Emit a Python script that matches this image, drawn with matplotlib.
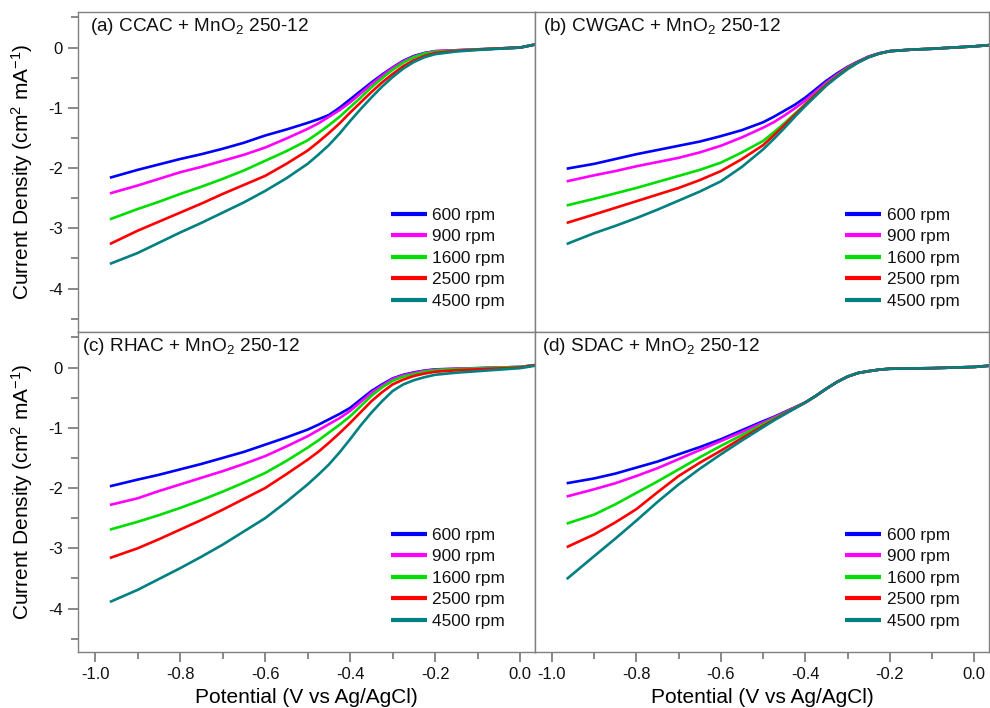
import matplotlib
matplotlib.use("Agg")
import matplotlib.pyplot as plt
from matplotlib.ticker import FixedLocator

plt.rcParams['font.family'] = ['Liberation Sans', 'DejaVu Sans']
plt.rcParams['mathtext.fontset'] = 'custom'
plt.rcParams['mathtext.rm'] = 'Liberation Sans'
plt.rcParams['mathtext.it'] = 'Liberation Sans:italic'
plt.rcParams['mathtext.bf'] = 'Liberation Sans:bold'
plt.rcParams['axes.unicode_minus'] = False

# ---------------- data ----------------
potential = [-0.965, -0.9, -0.85, -0.8, -0.75, -0.7, -0.65, -0.6, -0.55, -0.5,
             -0.475, -0.45, -0.425, -0.4, -0.375, -0.35, -0.325, -0.3, -0.275,
             -0.25, -0.225, -0.2, -0.15, -0.1, -0.05, 0.0, 0.035]

rpm_labels = ["600 rpm", "900 rpm", "1600 rpm", "2500 rpm", "4500 rpm"]

panel_titles = ["(a) CCAC + MnO$_2$ 250-12", "(b) CWGAC + MnO$_2$ 250-12",
                "(c) RHAC + MnO$_2$ 250-12", "(d) SDAC + MnO$_2$ 250-12"]

ccac_600 = [-2.16, -2.03, -1.94, -1.85, -1.77, -1.68, -1.58, -1.46, -1.36, -1.25, -1.19, -1.12, -1.00, -0.86, -0.72, -0.58, -0.45, -0.33, -0.22, -0.14, -0.09, -0.06, -0.045, -0.03, -0.015, 0.00, 0.05]
ccac_900 = [-2.42, -2.29, -2.18, -2.07, -1.98, -1.88, -1.78, -1.66, -1.51, -1.35, -1.26, -1.15, -1.04, -0.91, -0.76, -0.61, -0.47, -0.34, -0.23, -0.15, -0.095, -0.06, -0.045, -0.03, -0.015, 0.00, 0.05]
ccac_1600 = [-2.85, -2.68, -2.56, -2.43, -2.31, -2.18, -2.04, -1.88, -1.72, -1.54, -1.42, -1.29, -1.15, -0.99, -0.83, -0.66, -0.51, -0.37, -0.25, -0.16, -0.10, -0.07, -0.05, -0.03, -0.015, 0.00, 0.05]
ccac_2500 = [-3.26, -3.04, -2.89, -2.74, -2.59, -2.43, -2.28, -2.13, -1.93, -1.71, -1.57, -1.42, -1.26, -1.08, -0.91, -0.74, -0.58, -0.44, -0.31, -0.21, -0.14, -0.09, -0.055, -0.035, -0.015, 0.00, 0.05]
ccac_4500 = [-3.59, -3.41, -3.24, -3.07, -2.91, -2.74, -2.57, -2.38, -2.17, -1.93, -1.78, -1.62, -1.43, -1.22, -1.02, -0.83, -0.65, -0.49, -0.35, -0.24, -0.16, -0.11, -0.065, -0.04, -0.02, 0.00, 0.05]

cwgac_600 = [-2.01, -1.93, -1.85, -1.77, -1.70, -1.63, -1.56, -1.47, -1.37, -1.24, -1.15, -1.05, -0.95, -0.83, -0.69, -0.55, -0.43, -0.32, -0.23, -0.15, -0.095, -0.06, -0.035, -0.02, 0.00, 0.02, 0.04]
cwgac_900 = [-2.22, -2.12, -2.05, -1.97, -1.90, -1.83, -1.74, -1.63, -1.49, -1.33, -1.24, -1.13, -1.01, -0.88, -0.73, -0.58, -0.45, -0.33, -0.235, -0.15, -0.095, -0.06, -0.035, -0.02, 0.00, 0.02, 0.04]
cwgac_1600 = [-2.62, -2.51, -2.42, -2.33, -2.23, -2.13, -2.03, -1.91, -1.74, -1.55, -1.41, -1.26, -1.10, -0.94, -0.77, -0.61, -0.47, -0.34, -0.24, -0.16, -0.10, -0.06, -0.035, -0.02, 0.00, 0.02, 0.04]
cwgac_2500 = [-2.91, -2.77, -2.66, -2.55, -2.44, -2.33, -2.20, -2.05, -1.85, -1.62, -1.46, -1.29, -1.12, -0.95, -0.78, -0.62, -0.48, -0.35, -0.245, -0.16, -0.10, -0.06, -0.035, -0.02, 0.00, 0.02, 0.04]
cwgac_4500 = [-3.26, -3.08, -2.96, -2.83, -2.69, -2.54, -2.39, -2.22, -1.98, -1.69, -1.52, -1.34, -1.15, -0.97, -0.80, -0.63, -0.49, -0.36, -0.25, -0.16, -0.10, -0.06, -0.035, -0.02, 0.00, 0.02, 0.04]

rhac_600 = [-1.97, -1.86, -1.78, -1.69, -1.60, -1.50, -1.40, -1.28, -1.16, -1.03, -0.95, -0.86, -0.77, -0.67, -0.53, -0.39, -0.28, -0.18, -0.12, -0.08, -0.05, -0.03, -0.02, -0.01, 0.00, 0.01, 0.04]
rhac_900 = [-2.28, -2.17, -2.05, -1.94, -1.83, -1.72, -1.60, -1.47, -1.31, -1.14, -1.04, -0.94, -0.84, -0.72, -0.57, -0.42, -0.30, -0.19, -0.13, -0.09, -0.055, -0.035, -0.02, -0.01, 0.00, 0.01, 0.04]
rhac_1600 = [-2.69, -2.56, -2.45, -2.33, -2.20, -2.06, -1.91, -1.75, -1.55, -1.33, -1.21, -1.08, -0.95, -0.81, -0.64, -0.47, -0.33, -0.22, -0.15, -0.11, -0.07, -0.045, -0.025, -0.015, 0.00, 0.01, 0.04]
rhac_2500 = [-3.16, -3.00, -2.85, -2.69, -2.53, -2.36, -2.18, -2.00, -1.77, -1.53, -1.40, -1.25, -1.09, -0.92, -0.74, -0.56, -0.41, -0.28, -0.20, -0.14, -0.10, -0.07, -0.045, -0.03, -0.015, 0.00, 0.04]
rhac_4500 = [-3.89, -3.69, -3.51, -3.33, -3.14, -2.94, -2.72, -2.50, -2.23, -1.94, -1.78, -1.61, -1.41, -1.19, -0.96, -0.75, -0.56, -0.39, -0.28, -0.21, -0.16, -0.12, -0.085, -0.06, -0.035, -0.01, 0.03]

sdac_600 = [-1.92, -1.84, -1.76, -1.66, -1.56, -1.44, -1.32, -1.19, -1.04, -0.89, -0.82, -0.74, -0.66, -0.58, -0.47, -0.35, -0.24, -0.15, -0.09, -0.06, -0.035, -0.02, -0.015, -0.01, 0.00, 0.01, 0.03]
sdac_900 = [-2.14, -2.02, -1.92, -1.80, -1.67, -1.52, -1.37, -1.22, -1.07, -0.91, -0.83, -0.75, -0.665, -0.58, -0.47, -0.35, -0.24, -0.15, -0.09, -0.06, -0.035, -0.02, -0.015, -0.01, 0.00, 0.01, 0.03]
sdac_1600 = [-2.59, -2.44, -2.27, -2.08, -1.89, -1.69, -1.49, -1.30, -1.12, -0.94, -0.85, -0.76, -0.67, -0.58, -0.47, -0.35, -0.24, -0.15, -0.09, -0.06, -0.035, -0.02, -0.015, -0.01, 0.00, 0.01, 0.03]
sdac_2500 = [-2.98, -2.77, -2.57, -2.35, -2.07, -1.80, -1.58, -1.38, -1.17, -0.97, -0.87, -0.77, -0.675, -0.58, -0.47, -0.35, -0.24, -0.15, -0.09, -0.06, -0.035, -0.02, -0.015, -0.01, 0.00, 0.01, 0.03]
sdac_4500 = [-3.51, -3.13, -2.84, -2.54, -2.23, -1.94, -1.68, -1.44, -1.21, -0.99, -0.88, -0.78, -0.68, -0.58, -0.47, -0.35, -0.24, -0.15, -0.09, -0.06, -0.035, -0.02, -0.015, -0.01, 0.00, 0.01, 0.03]

panels = [
    [ccac_600, ccac_900, ccac_1600, ccac_2500, ccac_4500],
    [cwgac_600, cwgac_900, cwgac_1600, cwgac_2500, cwgac_4500],
    [rhac_600, rhac_900, rhac_1600, rhac_2500, rhac_4500],
    [sdac_600, sdac_900, sdac_1600, sdac_2500, sdac_4500],
]

colors = ["#0000FF", "#FF00FF", "#00DD00", "#FF0000", "#008080"]

# ---------------- figure ----------------
W, H = 990, 708
fig = plt.figure(figsize=(W / 100, H / 100), dpi=100)

def frac_rect(x0, y0, x1, y1):
    return [x0 / W, 1 - y1 / H, (x1 - x0) / W, (y1 - y0) / H]

rects = [frac_rect(78, 12, 535, 332), frac_rect(535, 12, 989, 332),
         frac_rect(78, 332, 535, 652), frac_rect(535, 332, 989, 652)]

spine_col = "#808080"
title_dx = [12, 8, 4, 7]

for i, (rect, series) in enumerate(zip(rects, panels)):
    ax = fig.add_axes(rect)
    for ys, c, lab in zip(series, colors, rpm_labels):
        ax.plot(potential, ys, color=c, lw=1.9, label=lab,
                solid_joinstyle='round', solid_capstyle='butt')
    ax.set_xlim(-1.04, 0.035)
    ax.set_ylim(-4.72, 0.59)
    for s in ax.spines.values():
        s.set_color(spine_col)
        s.set_linewidth(1.0)
    ax.xaxis.set_major_locator(FixedLocator([-1.0, -0.8, -0.6, -0.4, -0.2, 0.0]))
    ax.xaxis.set_minor_locator(FixedLocator([-0.9, -0.7, -0.5, -0.3, -0.1]))
    ax.yaxis.set_major_locator(FixedLocator([0, -1, -2, -3, -4]))
    ax.yaxis.set_minor_locator(FixedLocator([0.5, -0.5, -1.5, -2.5, -3.5, -4.5]))
    ax.xaxis.set_major_formatter(plt.FuncFormatter(lambda v, p: f"{v:.1f}" if abs(v) > 1e-9 else "0.0"))
    ax.yaxis.set_major_formatter(plt.FuncFormatter(lambda v, p: f"{int(round(v))}"))
    ax.tick_params(which='both', direction='out', color=spine_col, width=1.3,
                   labelsize=12, labelcolor='#111111')
    ax.tick_params(which='major', length=7, pad=4)
    ax.tick_params(which='minor', length=5)
    bottom = i >= 2
    left = i % 2 == 0
    if not bottom:
        ax.tick_params(axis='x', which='both', bottom=False, labelbottom=False)
    else:
        ax.set_xlabel("Potential (V vs Ag/AgCl)", fontsize=15, labelpad=4)
    if not left:
        ax.tick_params(axis='y', which='both', left=False, labelleft=False)
    else:
        ax.set_ylabel("Current Density (cm$^2$ mA$^{-1}$)", fontsize=15, labelpad=9)
    ax.annotate(panel_titles[i], xy=(0, 1), xycoords='axes fraction',
                xytext=(title_dx[i], -4), textcoords='offset pixels',
                ha='left', va='top', fontsize=13.7, color='#111111')
    leg = ax.legend(loc='lower right', bbox_to_anchor=(0.935, 0.072), frameon=False,
                    fontsize=12.4, handlelength=2.1, handletextpad=0.3,
                    labelspacing=0.38, borderpad=0, borderaxespad=0)
    for line in leg.get_lines():
        line.set_linewidth(3)
    for t in leg.get_texts():
        t.set_color('#111111')

fig.savefig("out.png", dpi=100, facecolor='white')
